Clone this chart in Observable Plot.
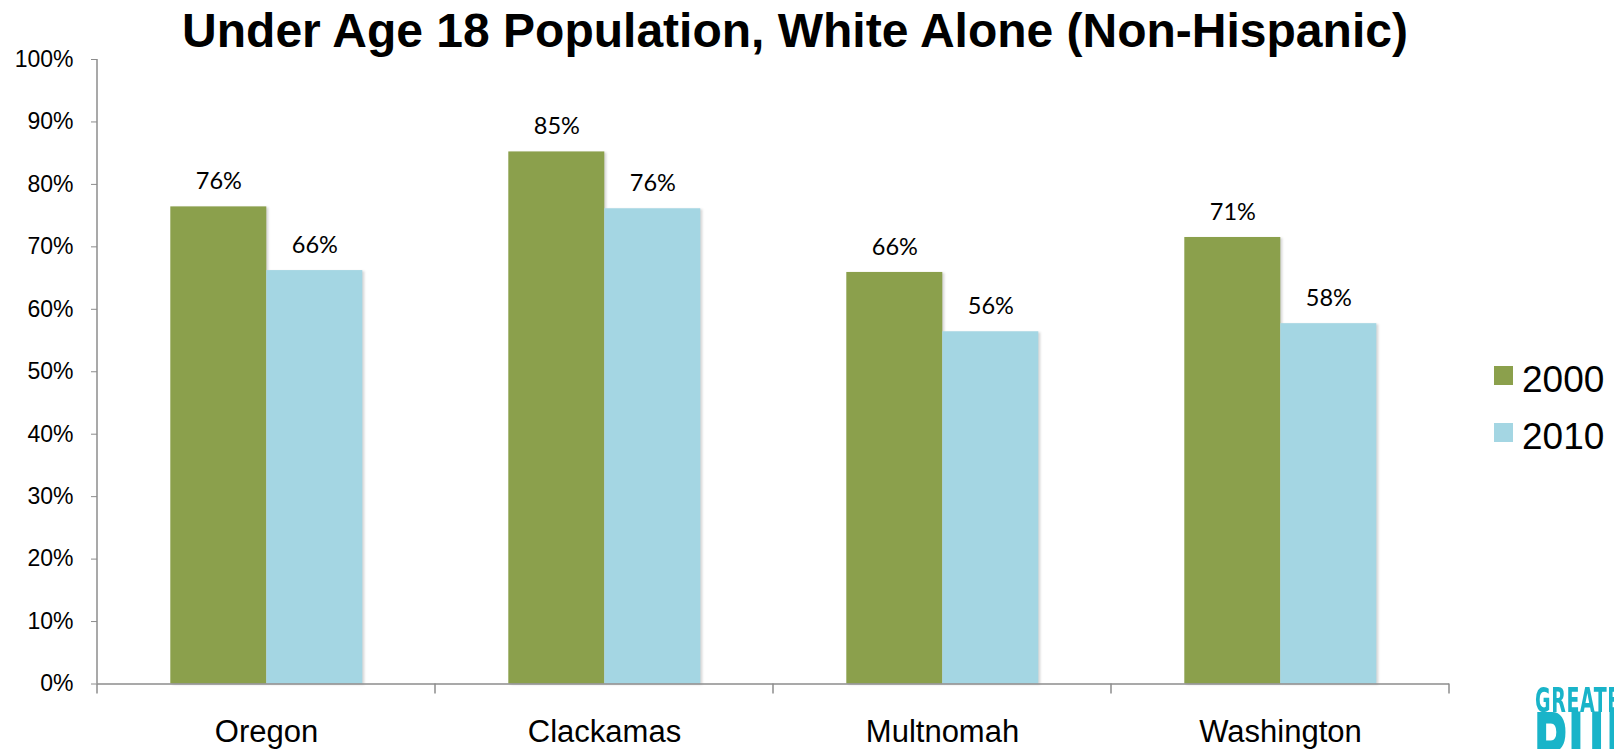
<!DOCTYPE html>
<html>
<head>
<meta charset="utf-8">
<script src="https://cdn.jsdelivr.net/npm/d3@7"></script>
<script src="https://cdn.jsdelivr.net/npm/@observablehq/plot@0.6"></script>
<style>
  html, body { margin: 0; padding: 0; background: #fff; width: 1614px; height: 749px; overflow: hidden; }
  #wrap { position: relative; width: 1614px; height: 749px; overflow: hidden; }
  #chart { position: absolute; left: 0; top: 0; }
  #title { position: absolute; left: 0; top: 7px; width: 1590px; text-align: center;
           font: bold 48px "Liberation Sans", Arial, sans-serif; line-height: 1; color: #000; white-space: nowrap; }
  .leg-sq { position: absolute; width: 19px; height: 19px; }
  .leg-tx { position: absolute; font: 37px "Liberation Sans", Arial, sans-serif; line-height: 1; color: #000; }
  #logo { position: absolute; left: 1535px; top: 684px; width: 79px; height: 65px; overflow: hidden; }
  #logo1 { position: absolute; left: 0; top: 4px; font: bold 34px "DejaVu Sans Condensed", "DejaVu Sans", sans-serif;
           color: #19b4c9; transform: scaleX(0.62); transform-origin: left top; white-space: nowrap; line-height: 0.75; letter-spacing: 1px; }
  #logo2 { position: absolute; left: -2px; top: 30.6px; font: bold 84px "DejaVu Sans Condensed", "DejaVu Sans", sans-serif;
           color: #19b4c9; transform: scaleX(0.62); transform-origin: left top; white-space: nowrap; line-height: 0.7; }
  g[aria-label="bar"] rect { filter: drop-shadow(2px 1px 1px rgba(0,0,0,0.16)); }
</style>
</head>
<body>
<div id="wrap">
  <div id="chart"></div>
  <div id="title"></div>
  <div id="legend"></div>
  <div id="logo"><div id="logo1">GREATER</div><div id="logo2">PULSE</div></div>
</div>
<script>
const titleText = "Under Age 18 Population, White Alone (Non-Hispanic)";
const categories = ["Oregon", "Clackamas", "Multnomah", "Washington"];
const years = ["2000", "2010"];
const values2000 = [76.4, 85.2, 65.9, 71.5];
const values2010 = [66.2, 76.1, 56.4, 57.7];
const labels2000 = ["76%", "85%", "66%", "71%"];
const labels2010 = ["66%", "76%", "56%", "58%"];
const yTicks = [0, 10, 20, 30, 40, 50, 60, 70, 80, 90, 100];
const seriesColors = ["#8ba04c", "#a4d6e3"];
const axisGrey = "#8c8c8c";

const rows = [];
categories.forEach((c, i) => {
  rows.push({category: c, year: years[0], value: values2000[i], label: labels2000[i]});
  rows.push({category: c, year: years[1], value: values2010[i], label: labels2010[i]});
});

const chart = Plot.plot({
  width: 1614,
  height: 749,
  marginTop: 59,
  marginBottom: 65.5,
  marginLeft: 96.7,
  marginRight: 164.3,
  style: {fontFamily: '"Liberation Sans", Arial, sans-serif', background: "transparent", color: "#000"},
  fx: {domain: categories, padding: 0, label: null},
  x: {domain: years, paddingInner: 0, paddingOuter: 0.75, axis: null},
  y: {domain: [0, 100], label: null},
  color: {domain: years, range: seriesColors},
  marks: [
    Plot.barY(rows, {fx: "category", x: "year", y: "value", fill: "year"}),
    Plot.ruleY([0], {stroke: axisGrey, strokeWidth: 1.5}),
    Plot.text(rows, {fx: "category", x: "year", y: "value", text: "label", dy: -25,
      fontSize: 23.5, fontFamily: "Lato, 'Open Sans', sans-serif", fill: "#000"}),
    Plot.axisY({ticks: yTicks, tickFormat: d => d + "%", tickSize: 6, tickPadding: 18,
      fontSize: 23, stroke: axisGrey, fill: "#000", label: null}),
    Plot.axisFx({anchor: "bottom", tickSize: 0, tickPadding: 36, fontSize: 31, label: null, fill: "#000"})
  ]
});
document.getElementById("chart").appendChild(chart);

// axis line and category boundary ticks, positioned through Plot's own scales
const fxS = chart.scale("fx"), yS = chart.scale("y");
const svg = d3.select(chart);
const y0 = yS.apply(0), yTop = yS.apply(100);
const leftX = fxS.apply(categories[0]);
svg.append("line").attr("x1", leftX).attr("x2", leftX).attr("y1", yTop).attr("y2", y0)
  .attr("stroke", axisGrey).attr("stroke-width", 1.5);
const bounds = categories.map(c => fxS.apply(c));
bounds.push(fxS.apply(categories[categories.length - 1]) + fxS.bandwidth);
bounds.forEach(bx => {
  svg.append("line").attr("x1", bx).attr("x2", bx).attr("y1", y0).attr("y2", y0 + 10)
    .attr("stroke", axisGrey).attr("stroke-width", 1.5);
});

document.getElementById("title").textContent = titleText;

const legend = document.getElementById("legend");
years.forEach((yr, i) => {
  const sq = document.createElement("div");
  sq.className = "leg-sq";
  sq.style.left = "1494px";
  sq.style.top = (366 + i * 57) + "px";
  sq.style.background = seriesColors[i];
  legend.appendChild(sq);
  const tx = document.createElement("div");
  tx.className = "leg-tx";
  tx.style.left = "1522px";
  tx.style.top = (361 + i * 57) + "px";
  tx.textContent = yr;
  legend.appendChild(tx);
});
</script>
</body>
</html>
